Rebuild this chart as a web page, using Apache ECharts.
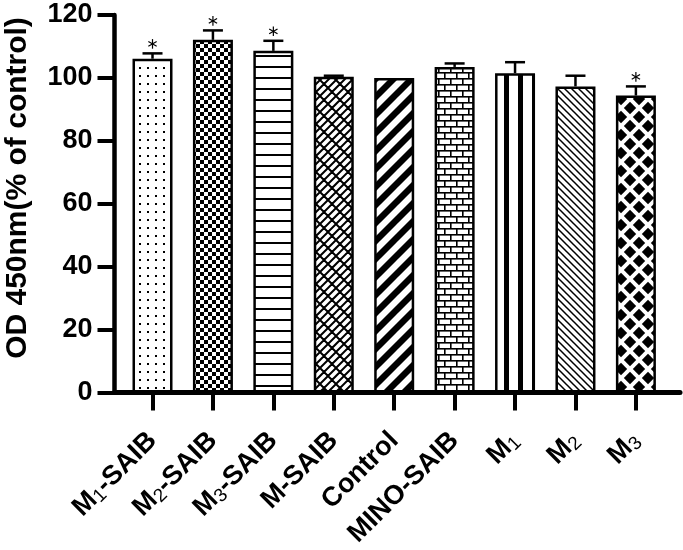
<!DOCTYPE html>
<html>
<head>
<meta charset="utf-8">
<script src="https://cdn.jsdelivr.net/npm/echarts@6/dist/echarts.min.js"></script>
<style>
html,body{margin:0;padding:0;background:#fff;}
#chart{width:683px;height:550px;}
</style>
</head>
<body>
<div id="chart"></div>
<script>
// ---- data ----
const categories = ['M1-SAIB', 'M2-SAIB', 'M3-SAIB', 'M-SAIB', 'Control', 'MINO-SAIB', 'M1', 'M2', 'M3'];
const means = [106.1, 112.1, 108.6, 100.4, 100.0, 103.5, 101.5, 97.3, 94.4];
const errors = [1.7, 3.0, 3.2, 0.3, 0.0, 1.1, 3.5, 3.4, 2.9];
const significant = [1, 1, 1, 0, 0, 0, 0, 0, 1];
const yTicks = [0, 20, 40, 60, 80, 100, 120];
const yTitle = 'OD 450nm(% of control)';

// ---- fill patterns ----
function makeTile(w, h, draw) {
  const c = document.createElement('canvas');
  c.width = w; c.height = h;
  const ctx = c.getContext('2d');
  ctx.fillStyle = '#fff'; ctx.fillRect(0, 0, w, h);
  ctx.fillStyle = '#000'; ctx.strokeStyle = '#000';
  draw(ctx, w, h);
  return { image: c, repeat: 'repeat' };
}
const patterns = [
  // dots
  makeTile(8, 8, ctx => { ctx.fillRect(3, 3, 2, 2); }),
  // checkerboard
  makeTile(8, 8, ctx => { ctx.fillRect(0, 0, 4, 4); ctx.fillRect(4, 4, 4, 4); }),
  // horizontal lines
  makeTile(4, 11, ctx => { ctx.fillRect(0, 0, 4, 2); }),
  // diagonal brick
  makeTile(16, 16, ctx => {
    ctx.lineWidth = 2;
    ctx.beginPath();
    for (let k = -4; k <= 8; k++) {
      const c = 8 * k;
      ctx.moveTo(c + 40, -40); ctx.lineTo(c - 40, 40);
      for (let m = -6; m <= 8; m++) {
        const a = 8 * m + 4 * (((k % 2) + 2) % 2);
        ctx.moveTo(a, c - a); ctx.lineTo(a + 4, c - a + 4);
      }
    }
    ctx.stroke();
  }),
  // thick diagonal stripes
  makeTile(18, 18, ctx => {
    ctx.lineWidth = 6.4;
    ctx.beginPath();
    for (let j = -2; j <= 3; j++) {
      const c = 4.5 + 18 * j;
      ctx.moveTo(c + 30, -30); ctx.lineTo(c - 30, 30);
    }
    ctx.stroke();
  }),
  // brick
  makeTile(12, 12, ctx => {
    ctx.fillRect(0, 0, 12, 1.6); ctx.fillRect(0, 6, 12, 1.6);
    ctx.fillRect(0, 0, 1.6, 6); ctx.fillRect(6, 6, 1.6, 6);
  }),
  // thick vertical stripes
  makeTile(14, 4, ctx => { ctx.fillRect(0, 0, 5, 4); }),
  // thin diagonal lines
  makeTile(7, 7, ctx => {
    ctx.lineWidth = 1.5;
    ctx.beginPath();
    for (let j = -2; j <= 2; j++) { ctx.moveTo(7 * j - 7, -7); ctx.lineTo(7 * j + 14, 14); }
    ctx.stroke();
  }),
  // diamonds
  makeTile(18, 18, ctx => {
    const r = 6.2;
    [[0, 0], [18, 0], [0, 18], [18, 18], [9, 9]].forEach(([cx, cy]) => {
      ctx.beginPath();
      ctx.moveTo(cx, cy - r); ctx.lineTo(cx + r, cy); ctx.lineTo(cx, cy + r); ctx.lineTo(cx - r, cy);
      ctx.closePath(); ctx.fill();
    });
  })
];

const FONT = "'Liberation Sans', Arial, sans-serif";

function labelText(name) {
  const m = name.match(/^M(\d)(.*)$/);
  if (m) return '{b|M}{s|' + m[1] + '}' + (m[2] ? '{b|' + m[2] + '}' : '');
  return '{b|' + name + '}';
}

const idx = categories.map((_, i) => i);
const barData = means.map((v, i) => ({ value: [i, v], itemStyle: { color: patterns[i] } }));
const errData = means.map((v, i) => [i, v, errors[i], significant[i]]);

const chart = echarts.init(document.getElementById('chart'), null, { renderer: 'canvas' });
chart.setOption({
  animation: false,
  backgroundColor: '#fff',
  grid: { left: 114.5, right: 3, top: 15, bottom: 155.5, containLabel: false },
  xAxis: {
    type: 'value',
    min: -0.629, max: 8.73,
    splitLine: { show: false },
    axisLine: { show: true, onZero: false, lineStyle: { color: '#000', width: 5 } },
    axisTick: { show: true, customValues: idx, length: 18, lineStyle: { color: '#000', width: 4 } },
    axisLabel: {
      customValues: idx,
      rotate: 45,
      margin: 44,
      formatter: v => labelText(categories[Math.round(v)]),
      rich: {
        b: { fontFamily: FONT, fontWeight: 'bold', fontSize: 27, color: '#000' },
        s: { fontFamily: FONT, fontWeight: 'normal', fontSize: 19, color: '#000', verticalAlign: 'bottom', padding: [10, 0, 0, 0] }
      }
    }
  },
  yAxis: {
    type: 'value',
    min: yTicks[0], max: yTicks[yTicks.length - 1], interval: yTicks[1] - yTicks[0],
    splitLine: { show: false },
    axisLine: { show: true, onZero: false, lineStyle: { color: '#000', width: 4.5 } },
    axisTick: { show: true, length: 17, lineStyle: { color: '#000', width: 4 } },
    axisLabel: { margin: 22, fontFamily: FONT, fontWeight: 'bold', fontSize: 27, color: '#000' }
  },
  graphic: [{
    type: 'text',
    x: 18, y: 188,
    rotation: Math.PI / 2,
    style: {
      text: yTitle,
      fontFamily: FONT, fontWeight: 'bold', fontSize: 30, fill: '#000',
      align: 'center', verticalAlign: 'middle'
    }
  }],
  series: [
    {
      type: 'bar',
      barWidth: 40,
      data: barData,
      itemStyle: { borderColor: '#000', borderWidth: 2.5 },
      z: 2
    },
    {
      type: 'custom',
      data: errData,
      z: 3,
      renderItem: (params, api) => {
        const x = api.value(0), m = api.value(1), e = api.value(2), s = api.value(3);
        const p0 = api.coord([x, m]);
        const p1 = api.coord([x, m + e]);
        const st = { stroke: '#000', lineWidth: 2.5 };
        const children = [];
        if (e > 0) {
          children.push({ type: 'line', shape: { x1: p0[0], y1: p0[1], x2: p1[0], y2: p1[1] }, style: st });
          children.push({ type: 'line', shape: { x1: p1[0] - 10, y1: p1[1], x2: p1[0] + 10, y2: p1[1] }, style: st });
        }
        if (s) {
          const cx = p1[0], cy = p1[1] - 9.5, r = 4.8;
          [90, 30, 150].forEach(deg => {
            const a = deg * Math.PI / 180;
            children.push({ type: 'line', shape: { x1: cx - r * Math.cos(a), y1: cy - r * Math.sin(a), x2: cx + r * Math.cos(a), y2: cy + r * Math.sin(a) }, style: { stroke: '#000', lineWidth: 1.2 } });
          });
        }
        return { type: 'group', children };
      }
    }
  ]
});
</script>
</body>
</html>
